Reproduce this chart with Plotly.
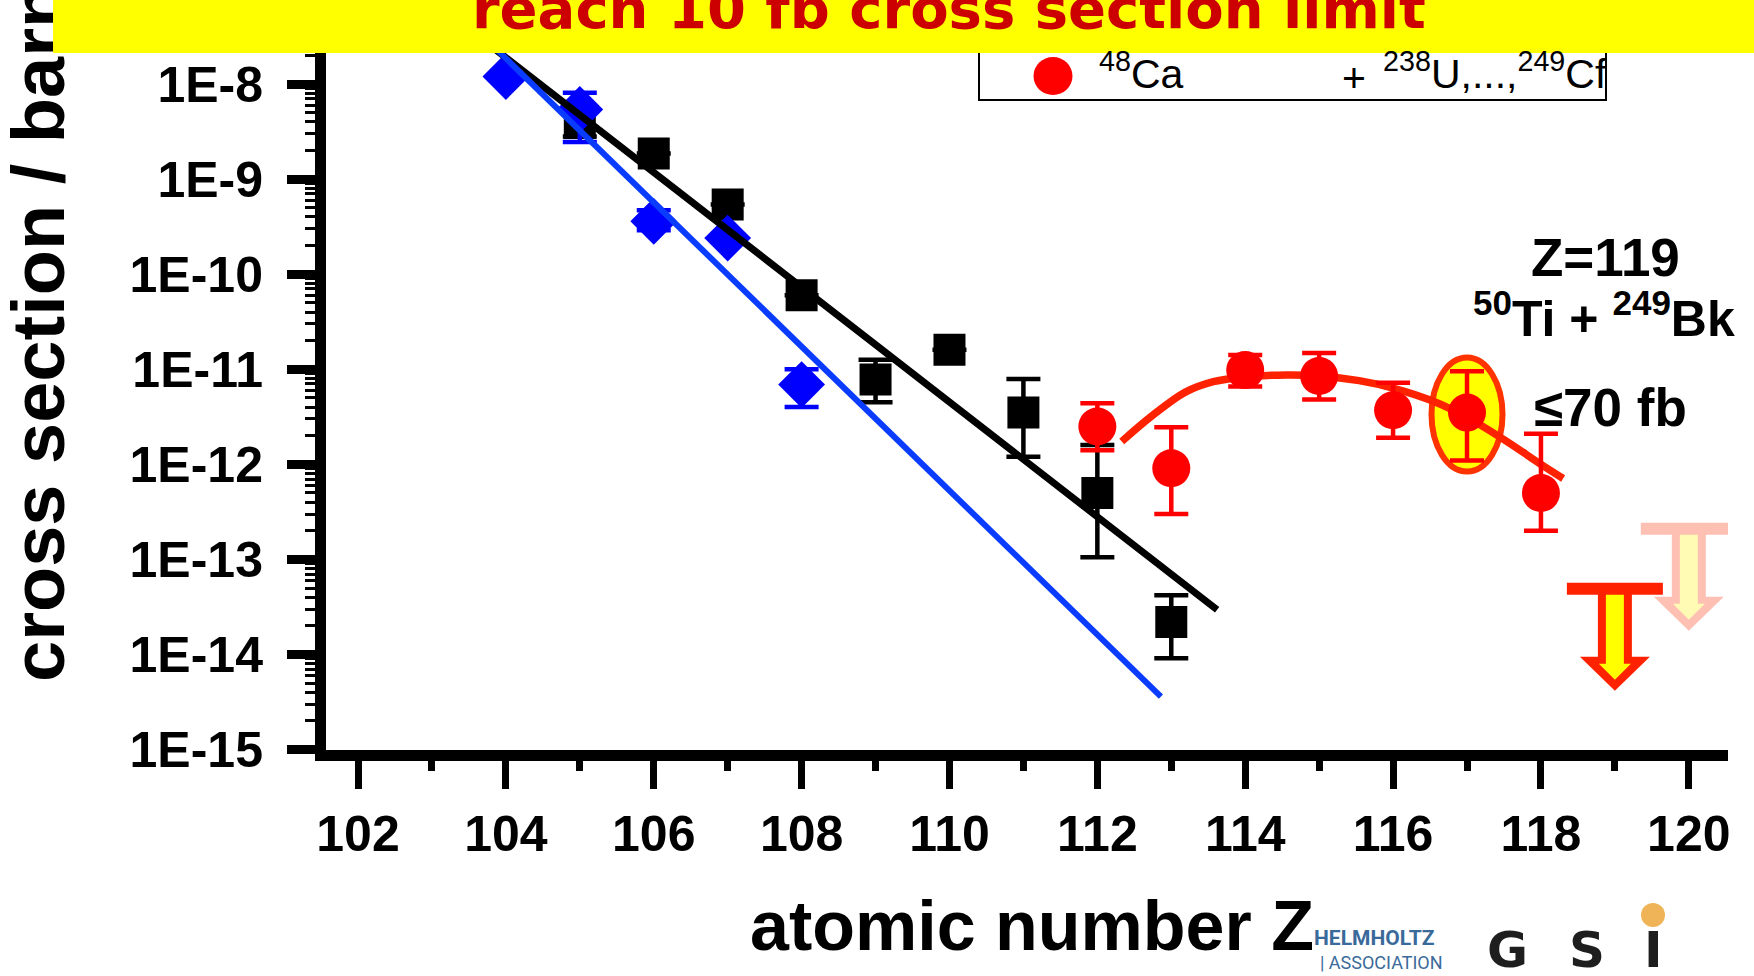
import plotly.graph_objects as go

# ---------------- data ----------------
black_z = [105, 106, 107, 108, 109, 110, 111, 112, 113]
black_sigma = [3.9e-9, 1.86e-9, 5.4e-10, 6.0e-11, 7.8e-12, 1.6e-11, 3.5e-12, 5.0e-13, 2.2e-14]
black_upper = [5.6e-9, None, None, None, 1.26e-11, None, 7.9e-12, 1.6e-12, 4.2e-14]
black_lower = [2.8e-9, None, None, None, 4.5e-12, None, 1.2e-12, 1.05e-13, 9.1e-15]

blue_z = [104, 105, 106, 107, 108]
blue_sigma = [1.2e-8, 5.4e-9, 3.6e-10, 2.4e-10, 6.9e-12]
blue_upper = [None, 8.1e-9, 4.7e-10, None, 1.0e-11]
blue_lower = [None, 2.45e-9, 2.9e-10, None, 4.0e-12]

red_z = [112, 113, 114, 115, 116, 117, 118]
red_sigma = [2.5e-12, 9.1e-13, 9.8e-12, 8.5e-12, 3.7e-12, 3.5e-12, 5.0e-13]
red_upper = [4.4e-12, 2.45e-12, 1.41e-11, 1.48e-11, 7.2e-12, 9.5e-12, 2.1e-12]
red_lower = [1.41e-12, 3.0e-13, 6.6e-12, 4.8e-12, 1.9e-12, 1.1e-12, 2.0e-13]

fit_black_z = [103.5, 113.62]
fit_black_sigma = [3.8e-8, 2.95e-14]
fit_blue_z = [103.5, 112.86]
fit_blue_sigma = [4.45e-8, 3.6e-15]

red_fit_z = [112.33, 112.74, 113.19, 113.57, 114.01, 114.55, 115.01, 115.54,
             116.01, 116.52, 117.01, 117.50, 118.00, 118.30]
red_fit_sigma = [1.74e-12, 3.24e-12, 5.75e-12, 7.41e-12, 8.32e-12, 8.71e-12, 8.51e-12,
                 7.59e-12, 6.31e-12, 4.68e-12, 3.09e-12, 1.82e-12, 1.0e-12, 7.1e-13]

highlight_index = 5          # Z = 117 point circled in yellow
limit_z = [119, 120]         # upper limits (arrows)
limit_sigma = [4.9e-14, 2.1e-13]

x_tickvals = [102, 104, 106, 108, 110, 112, 114, 116, 118, 120]
x_ticktext = [str(v) for v in x_tickvals]
y_tickvals = [1e-15, 1e-14, 1e-13, 1e-12, 1e-11, 1e-10, 1e-9, 1e-8]
y_ticktext = ["1E-15", "1E-14", "1E-13", "1E-12", "1E-11", "1E-10", "1E-9", "1E-8"]

# ---------------- layout geometry ----------------
W, H = 1754, 976
PL, PR, PT, PB = 326, 1728, 0, 750


def px(x):
    return (x - PL) / (PR - PL)


def py(y):
    return 1 - (y - PT) / (PB - PT)


def plus(vals, bounds):
    return [None if b is None else b - v for v, b in zip(vals, bounds)]


def minus(vals, bounds):
    return [None if b is None else v - b for v, b in zip(vals, bounds)]


def ellipse_path(rx, ry, cy=0.0):
    k = 0.5523
    segs = [
        ((rx, cy + k * ry), (k * rx, cy + ry), (0, cy + ry)),
        ((-k * rx, cy + ry), (-rx, cy + k * ry), (-rx, cy)),
        ((-rx, cy - k * ry), (-k * rx, cy - ry), (0, cy - ry)),
        ((k * rx, cy - ry), (rx, cy - k * ry), (rx, cy)),
    ]
    s = "M%.2f,%.2f" % (rx, cy)
    for a, b, c in segs:
        s += " C%.2f,%.2f %.2f,%.2f %.2f,%.2f" % (a + b + c)
    return s + " Z"


fig = go.Figure()

fig.add_trace(go.Scatter(
    x=black_z, y=black_sigma, mode="markers",
    marker=dict(symbol="square", size=32, color="black"),
    error_y=dict(type="data", symmetric=False, array=plus(black_sigma, black_upper),
                 arrayminus=minus(black_sigma, black_lower),
                 color="black", thickness=4.5, width=17),
))
fig.add_trace(go.Scatter(
    x=blue_z, y=blue_sigma, mode="markers",
    marker=dict(symbol="diamond", size=36, color="#0000FF"),
    error_y=dict(type="data", symmetric=False, array=plus(blue_sigma, blue_upper),
                 arrayminus=minus(blue_sigma, blue_lower),
                 color="#0000FF", thickness=4.5, width=17),
))
fig.add_trace(go.Scatter(x=fit_black_z, y=fit_black_sigma, mode="lines",
                         line=dict(color="black", width=7)))
fig.add_trace(go.Scatter(x=fit_blue_z, y=fit_blue_sigma, mode="lines",
                         line=dict(color="#0A3CFF", width=6)))
fig.add_trace(go.Scatter(x=red_fit_z, y=red_fit_sigma, mode="lines",
                         line=dict(color="#FF2200", width=7.5, shape="spline")))
fig.add_trace(go.Scatter(
    x=red_z, y=red_sigma, mode="markers",
    marker=dict(symbol="circle", size=38, color="#FF0000"),
    error_y=dict(type="data", symmetric=False, array=plus(red_sigma, red_upper),
                 arrayminus=minus(red_sigma, red_lower),
                 color="#FF0000", thickness=4.5, width=17),
))

shapes = []
# highlight ellipse around Z=117
shapes.append(dict(type="path", xref="x", yref="y", xsizemode="pixel", ysizemode="pixel",
                   xanchor=red_z[highlight_index], yanchor=red_sigma[highlight_index],
                   path=ellipse_path(35.5, 57, -2),
                   fillcolor="#FFFF00", line=dict(color="#FF3300", width=6), layer="below"))

# upper-limit arrows
outer_path = "M-48,6 L48,6 L48,-6 L17,-6 L17,-68 L35,-68 L0,-102 L-35,-68 L-17,-68 L-17,-6 L-48,-6 Z"
inner_path = "M-9,-6 L9,-6 L9,-75 L16,-75 L0,-91 L-16,-75 L-9,-75 Z"
arrow_styles = [("#FF2200", "#FFFF00"), ("#FFC0B4", "#FFFAB4")]
for z, s, (oc, ic) in zip(limit_z, limit_sigma, arrow_styles):
    for path, col in ((outer_path, oc), (inner_path, ic)):
        shapes.append(dict(type="path", xref="x", yref="y", xsizemode="pixel", ysizemode="pixel",
                           xanchor=z, yanchor=s, path=path, fillcolor=col,
                           line=dict(width=0), layer="above"))

# legend box
shapes.append(dict(type="rect", xref="paper", yref="paper",
                   x0=px(979), x1=px(1606), y0=py(100), y1=py(10),
                   fillcolor="white", line=dict(color="black", width=2), layer="above"))
shapes.append(dict(type="circle", xref="paper", yref="paper", xsizemode="pixel", ysizemode="pixel",
                   xanchor=px(1053), yanchor=py(76), x0=-19.5, x1=19.5, y0=-19, y1=19,
                   fillcolor="#FF0000", line=dict(width=0), layer="above"))
# GSI logo dot
shapes.append(dict(type="circle", xref="paper", yref="paper", xsizemode="pixel", ysizemode="pixel",
                   xanchor=px(1653), yanchor=py(915), x0=-12, x1=12, y0=-12, y1=12,
                   fillcolor="#F0B458", line=dict(width=0), layer="above"))

ann = []
BF = "Liberation Sans, Arial, sans-serif"
ann.append(dict(text="cross section / barn", textangle=-90, xref="paper", yref="paper",
                x=px(39), y=py(333), xanchor="center", yanchor="middle", showarrow=False,
                font=dict(family=BF, size=74, color="black", weight="bold")))
# yellow banner
ann.append(dict(text=" ", xref="paper", yref="paper", x=px(53), y=py(0),
                xanchor="left", yanchor="top", showarrow=False, width=1701, height=53,
                bgcolor="#FFFF00", borderpad=0, borderwidth=0))
ann.append(dict(text="reach 10 fb cross section limit", xref="paper", yref="paper",
                x=px(949), y=py(8), xanchor="center", yanchor="middle", showarrow=False,
                font=dict(family="DejaVu Sans, Verdana, sans-serif", size=56, color="#CC0000",
                          weight="bold")))
ann.append(dict(text="Z=119", xref="paper", yref="paper", x=px(1605), y=py(257),
                xanchor="center", yanchor="middle", showarrow=False,
                font=dict(family=BF, size=53, color="black", weight="bold")))
ann.append(dict(text="<sup>50</sup>Ti + <sup>249</sup>Bk", xref="paper", yref="paper",
                x=px(1604), y=py(315), xanchor="center", yanchor="middle", showarrow=False,
                font=dict(family=BF, size=50, color="black", weight="bold")))
ann.append(dict(text="≤70 fb", xref="paper", yref="paper", x=px(1610), y=py(407),
                xanchor="center", yanchor="middle", showarrow=False,
                font=dict(family=BF, size=53, color="black", weight="bold")))
ann.append(dict(text="atomic number Z", xref="paper", yref="paper", x=px(1032), y=py(926),
                xanchor="center", yanchor="middle", showarrow=False,
                font=dict(family=BF, size=70, color="black", weight="bold")))
# legend texts
LF = dict(family=BF, size=41, color="black")
ann.append(dict(text="<sup>48</sup>Ca", xref="paper", yref="paper", x=px(1097), y=py(71),
                xanchor="left", yanchor="middle", showarrow=False, font=LF))
ann.append(dict(text="+", xref="paper", yref="paper", x=px(1354), y=py(78),
                xanchor="center", yanchor="middle", showarrow=False, font=LF))
ann.append(dict(text="<sup>238</sup>U,...,<sup>249</sup>Cf", xref="paper", yref="paper",
                x=px(1609), y=py(71), xanchor="right", yanchor="middle", showarrow=False, font=LF))
# logos
ann.append(dict(text="HELMHOLTZ", xref="paper", yref="paper", x=px(1312), y=py(938),
                xanchor="left", yanchor="middle", showarrow=False,
                font=dict(family="Roboto, sans-serif", size=21, color="#3A6A9A", weight="bold")))
ann.append(dict(text="| ASSOCIATION", xref="paper", yref="paper", x=px(1318), y=py(962),
                xanchor="left", yanchor="middle", showarrow=False,
                font=dict(family="Roboto, sans-serif", size=18, color="#3A6A9A")))
for letter, cx in (("G", 1507), ("S", 1587), ("I", 1653)):
    ann.append(dict(text=letter, xref="paper", yref="paper", x=px(cx), y=py(950),
                    xanchor="center", yanchor="middle", showarrow=False,
                    font=dict(family="DejaVu Sans, sans-serif", size=50, color="#1E1E1E",
                              weight="bold")))

fig.update_layout(
    width=W, height=H, autosize=False,
    margin=dict(l=PL, r=W - PR, t=PT, b=H - PB, pad=0),
    paper_bgcolor="white", plot_bgcolor="white",
    showlegend=False,
    shapes=shapes, annotations=ann,
    xaxis=dict(range=[101.567, 120.53], tickmode="array", tickvals=x_tickvals, ticktext=x_ticktext,
               showline=True, linecolor="black", linewidth=11, mirror=False,
               ticks="outside", ticklen=28, tickwidth=7, tickcolor="black",
               showgrid=False, zeroline=False, ticklabelstandoff=2,
               tickfont=dict(family=BF, size=50, color="black", weight="bold"),
               minor=dict(ticks="outside", ticklen=10, tickwidth=7, tickcolor="black",
                          dtick=1, showgrid=False)),
    yaxis=dict(type="log", range=[-15.005, -7.116], tickmode="array", tickvals=y_tickvals,
               ticktext=y_ticktext,
               showline=True, linecolor="black", linewidth=11, mirror=False,
               ticks="outside", ticklen=28, tickwidth=9, tickcolor="black",
               showgrid=False, zeroline=False, ticklabelstandoff=14,
               tickfont=dict(family=BF, size=50, color="black", weight="bold"),
               minor=dict(ticks="outside", ticklen=10, tickwidth=3, tickcolor="black",
                          dtick="D1", showgrid=False)),
)

fig.write_html("out.html")
